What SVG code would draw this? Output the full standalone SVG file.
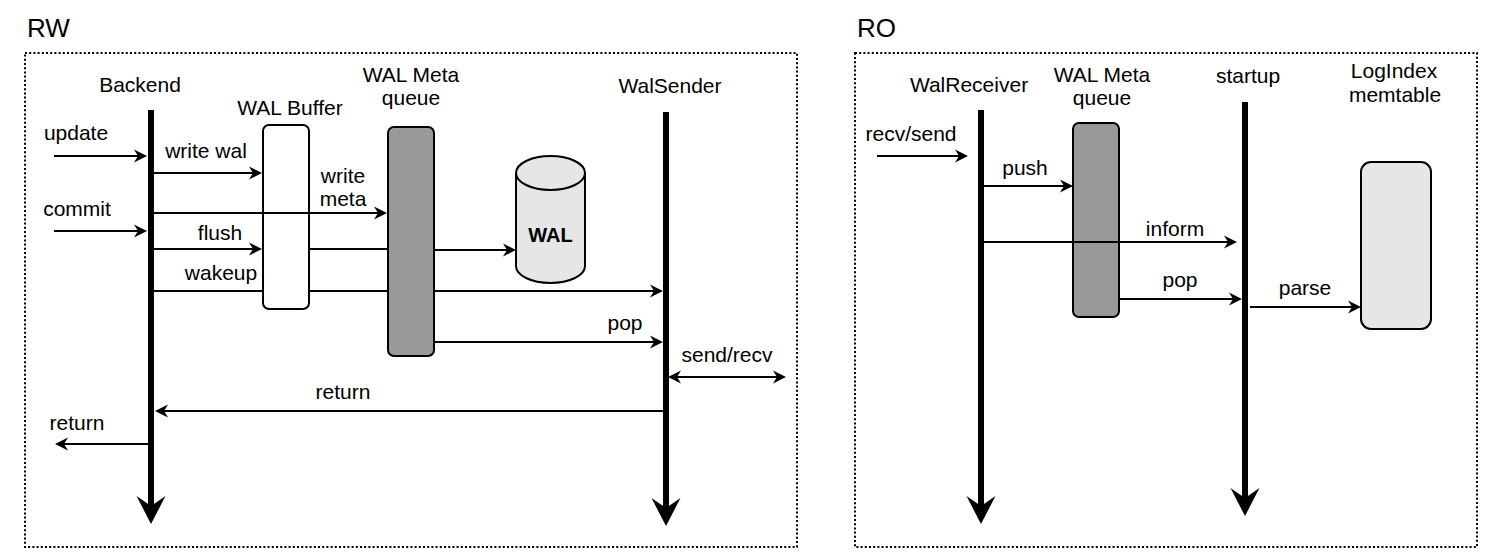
<svg xmlns="http://www.w3.org/2000/svg" width="1504" height="559" viewBox="0 0 1504 559">
  <style>
    text { font-family: "Liberation Sans", Arial, Helvetica, sans-serif; fill: #000; }
    .lbl { font-size: 21px; text-anchor: middle; }
    .title { font-size: 26px; }
    .frame { fill: none; stroke: #000; stroke-width: 2; stroke-dasharray: 2 2.2; }
    .life { fill: none; stroke: #000; stroke-width: 6; marker-end: url(#lifeHead); }
    .msg { fill: none; stroke: #000; stroke-width: 2; }
    .arr { marker-end: url(#msgHead); }
    .both { marker-start: url(#msgHead); marker-end: url(#msgHead); }
    .box { stroke: #000; stroke-width: 2; }
  </style>
  <defs>
    <marker id="msgHead" viewBox="0 0 14 14" markerWidth="14" markerHeight="14" refX="4" refY="7" orient="auto-start-reverse" markerUnits="userSpaceOnUse">
      <path d="M0,0.5 L13,7 L0,13.5 L4,7 Z" fill="#000"/>
    </marker>
    <marker id="lifeHead" viewBox="0 0 30 30" markerWidth="30" markerHeight="30" refX="10" refY="15" orient="auto" markerUnits="userSpaceOnUse">
      <path d="M0,0.5 L28,15 L0,29.5 L10,15 Z" fill="#000"/>
    </marker>
  </defs>

  <rect width="1504" height="559" fill="#fff"/>

  <!-- RW side -->
  <text class="title" x="27" y="37">RW</text>
  <rect class="frame" x="25" y="53" width="772" height="494"/>

  <!-- RO side -->
  <text class="title" x="857" y="37">RO</text>
  <rect class="frame" x="855" y="53" width="622" height="494"/>

  <!-- lifelines -->
  <g id="backend">
    <text class="lbl" x="140" y="92">Backend</text>
    <path class="life" d="M151,110 V506"/>
  </g>
  <g id="walsender">
    <text class="lbl" x="670" y="93">WalSender</text>
    <path class="life" d="M666,112 V508"/>
  </g>
  <g id="walreceiver">
    <text class="lbl" x="969" y="92">WalReceiver</text>
    <path class="life" d="M981,110 V506"/>
  </g>
  <g id="startup">
    <text class="lbl" x="1248" y="83">startup</text>
    <path class="life" d="M1245,102 V498"/>
  </g>

  <!-- boxes -->
  <g id="wal-buffer">
    <text class="lbl" x="290" y="115">WAL Buffer</text>
    <rect class="box" x="263" y="125" width="46" height="184" rx="6" fill="#fff"/>
  </g>
  <g id="wal-meta-queue-rw">
    <text class="lbl" x="411" y="82">WAL Meta</text>
    <text class="lbl" x="411" y="105">queue</text>
    <rect class="box" x="388" y="127" width="46" height="229" rx="6" fill="#999"/>
  </g>
  <g id="wal-disk">
    <path class="box" d="M516,173 V266 A34.5,17 0 0 0 585,266 V173 A34.5,17 0 0 0 516,173 Z" fill="#e6e6e6"/>
    <path class="box" d="M516,173 A34.5,17 0 0 0 585,173" fill="none"/>
    <text x="550.5" y="242" font-size="20" font-weight="bold" text-anchor="middle">WAL</text>
  </g>
  <g id="wal-meta-queue-ro">
    <text class="lbl" x="1102" y="82">WAL Meta</text>
    <text class="lbl" x="1102" y="105">queue</text>
    <rect class="box" x="1073" y="123" width="46" height="194" rx="6" fill="#999"/>
  </g>
  <g id="logindex-memtable">
    <text class="lbl" x="1394" y="78">LogIndex</text>
    <text class="lbl" x="1395" y="102">memtable</text>
    <rect class="box" x="1361" y="162" width="70" height="167" rx="10" fill="#e6e6e6"/>
  </g>

  <!-- messages -->
  <g id="connectors">
    <path class="msg arr" d="M54,156 H138"/>
    <path class="msg arr" d="M154,173 H253"/>
    <path class="msg arr" d="M154,213 H378"/>
    <path class="msg arr" d="M54,231 H138"/>
    <path class="msg arr" d="M154,249 H253"/>
    <path class="msg" d="M309,249 H388"/>
    <path class="msg arr" d="M434,250 H507"/>
    <path class="msg" d="M154,291 H263 M309,291 H388"/>
    <path class="msg arr" d="M434,291 H654"/>
    <path class="msg arr" d="M434,342 H654"/>
    <path class="msg both" d="M677,377 H777"/>
    <path class="msg arr" d="M663,411 H164"/>
    <path class="msg arr" d="M148,444 H64"/>

    <path class="msg arr" d="M877,156 H959"/>
    <path class="msg arr" d="M984,186 H1064"/>
    <path class="msg arr" d="M984,242 H1228"/>
    <path class="msg arr" d="M1119,299 H1233"/>
    <path class="msg arr" d="M1250,307 H1352"/>

    <text class="lbl" x="76" y="140">update</text>
    <text class="lbl" x="206" y="158">write wal</text>
    <text class="lbl" x="343" y="183">write</text>
    <text class="lbl" x="343" y="206">meta</text>
    <text class="lbl" x="77" y="216">commit</text>
    <text class="lbl" x="220" y="240">flush</text>
    <text class="lbl" x="221" y="280">wakeup</text>
    <text class="lbl" x="625" y="330">pop</text>
    <text class="lbl" x="727" y="362">send/recv</text>
    <text class="lbl" x="343" y="399">return</text>
    <text class="lbl" x="77" y="430">return</text>

    <text class="lbl" x="911" y="141">recv/send</text>
    <text class="lbl" x="1025" y="175">push</text>
    <text class="lbl" x="1175" y="236">inform</text>
    <text class="lbl" x="1180" y="287">pop</text>
    <text class="lbl" x="1305" y="295">parse</text>
  </g>
</svg>
